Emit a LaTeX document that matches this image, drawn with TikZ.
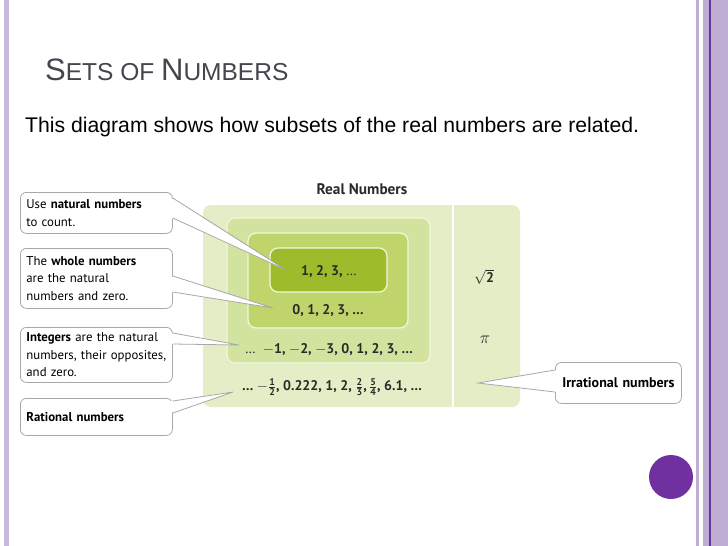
\documentclass[tikz,border=0pt]{standalone}
\usepackage{fontspec}
\usepackage{amsmath}
\setmainfont{Liberation Sans}
\newfontfamily\dgm{PT Sans}
\usetikzlibrary{calc}
\hyphenpenalty=10000
\exhyphenpenalty=10000
\hbadness=10000
\hfuzz=20pt
\definecolor{purpL}{HTML}{C8B8DC}
\definecolor{purpM}{HTML}{BEAED4}
\definecolor{purpD}{HTML}{7030A0}
\definecolor{titlegray}{HTML}{45454F}
\definecolor{gOuter}{HTML}{E4EDC6}
\definecolor{gInt}{HTML}{D2E3A0}
\definecolor{gWhole}{HTML}{BFD56C}
\definecolor{gNat}{HTML}{9DBB2A}
\definecolor{gEdge}{HTML}{F2F7DC}
\definecolor{callgray}{HTML}{A8A8A8}
\definecolor{numtext}{HTML}{2A2A2A}
\tikzset{
  callout/.style={draw=callgray, line width=0.8pt, fill=white, rounded corners=6pt,
    anchor=north west, text width=140pt, inner xsep=6pt, inner ysep=2pt, align=left,
    font=\dgm\fontsize{12.8}{17.5}\selectfont, text=black},
  setbox/.style={draw=gEdge, line width=1.2pt, rounded corners=8pt},
  numlbl/.style={font=\dgm\bfseries\fontsize{14}{16}\selectfont, text=numtext},
  wedgefill/.style={fill=white},
  wedgeline/.style={draw=callgray, line width=0.8pt},
}
\begin{document}
\begin{tikzpicture}[x=1pt,y=-1pt]
\useasboundingbox (0,0) rectangle (728,546);
\fill[white] (0,0) rectangle (728,546);
% borders
\fill[purpL] (4,0) rectangle (9,546);
\fill[purpM] (696,0) rectangle (699,546);
\fill[purpM] (703,0) rectangle (728,546);
\fill[purpD] (709,0) rectangle (710.5,546);
\fill[purpD] (671,477) circle (22);
% title
\node[anchor=base west, inner sep=0, text=titlegray] (title) at (45,80)
  {\fontsize{31}{33}\selectfont S\fontsize{24.5}{26}\selectfont ETS OF \fontsize{31}{33}\selectfont N\fontsize{24.5}{26}\selectfont UMBERS};
\node[anchor=base west, inner sep=0, text=black] (sub) at (25,132)
  {\fontsize{21.2}{24}\selectfont This diagram shows how subsets of the real numbers are related.};
% set boxes
\path[fill=gOuter, rounded corners=8pt] (203,205) rectangle (520,407);
\node[inner sep=0] (outer) at (361.5,306) {};
\draw[white, line width=1.5pt] (453,205) -- (453,407);
\path[setbox, fill=gInt] (227,218) rectangle (430,363);
\path[setbox, fill=gWhole] (248,233) rectangle (408,328);
\path[setbox, fill=gNat] (270,248) rectangle (387,292);
% labels
\node[font=\dgm\bfseries\fontsize{15.3}{17}\selectfont, text=numtext] (real) at (362,189) {Real Numbers};
\node[numlbl] (nat) at (329,272) {1, 2, 3, \textmd{\dots}};
\node[numlbl] (whole) at (328,311) {0, 1, 2, 3, \dots};
\node[numlbl] (int) at (329,350) {\textmd{\dots}\ \ $-$1, $-$2, $-$3, 0, 1, 2, 3, \dots};
\node[numlbl] (rat) at (332,387) {\dots\ $-\frac{\text{\dgm\bfseries 1}}{\text{\dgm\bfseries 2}}$, 0.222, 1, 2, $\frac{\text{\dgm\bfseries 2}}{\text{\dgm\bfseries 3}}$,\,$\frac{\text{\dgm\bfseries 5}}{\text{\dgm\bfseries 4}}$, 6.1, \dots};
\node[numlbl] (sqrt) at (484,277) {$\sqrt{\text{\dgm\bfseries 2}}$};
\node[font=\fontsize{16}{18}\selectfont, text=numtext] (pi) at (485,340) {$\pi$};
% tips
\coordinate (t1) at (286,270);
\coordinate (t2) at (273,308);
\coordinate (t3) at (239,345);
\coordinate (t4) at (233,392);
\coordinate (t5) at (478,383);
% callouts
\node[callout, minimum height=41pt] (c1) at (20,192) {\mbox{Use \textbf{natural numbers}}\\\mbox{to count.}};
\node[callout, minimum height=60pt] (c2) at (20,248) {\mbox{The \textbf{whole numbers}}\\\mbox{are the natural}\\\mbox{numbers and zero.}};
\node[callout, minimum height=55pt] (c3) at (20,327) {\mbox{\textbf{Integers} are the natural}\\\mbox{numbers, their opposites,}\\\mbox{and zero.}};
\node[callout, minimum height=37pt] (c4) at (20,398) {\textbf{Rational numbers}};
\node[callout, text width=114pt, minimum height=41pt, align=center, font=\dgm\fontsize{14}{17}\selectfont] (c5) at (555,362) {\textbf{Irrational numbers}};
% wedges
\foreach \c/\t/\ya/\yb in {c1/t1/198/218, c2/t2/276/292, c3/t3/333/344, c4/t4/401/413}{
  \fill[wedgefill] ($(\c.east |- 0,\ya)+(-2,0)$) -- (\t) -- ($(\c.east |- 0,\yb)+(-2,0)$) -- cycle;
  \draw[wedgeline] ($(\c.east |- 0,\ya)$) -- (\t) -- ($(\c.east |- 0,\yb)$);
}
\fill[wedgefill] ($(c5.west |- 0,370)+(2,0)$) -- (t5) -- ($(c5.west |- 0,392)+(2,0)$) -- cycle;
\draw[wedgeline] (c5.west |- 0,370) -- (t5) -- (c5.west |- 0,392);
\end{tikzpicture}
\end{document}
